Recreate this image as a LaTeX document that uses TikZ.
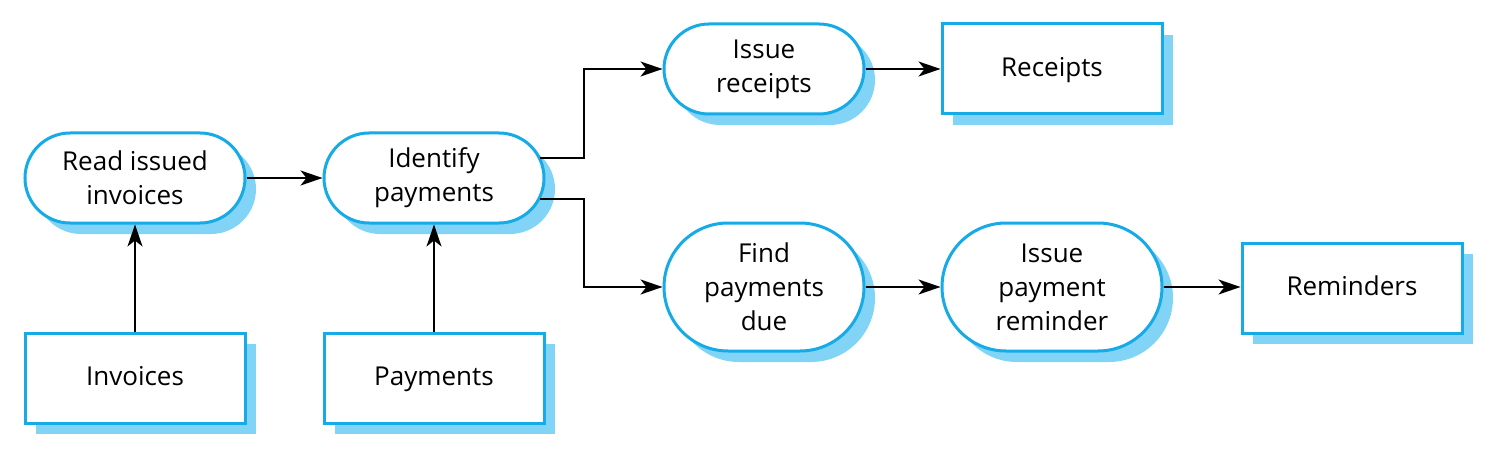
\documentclass[tikz,border=0pt]{standalone}
\usepackage{fontspec}
\setmainfont{Open Sans}
\usetikzlibrary{shadows,arrows.meta,calc}
\definecolor{bord}{RGB}{22,170,230}
\definecolor{shad}{RGB}{130,212,247}
\begin{document}
\begin{tikzpicture}[x=0.5pt,y=-0.5pt,
  base/.style={draw=bord, line width=1.5pt, fill=white, align=center,
    font=\fontsize{13}{17}\selectfont, inner sep=0pt,
    drop shadow={shadow xshift=5.5pt, shadow yshift=-5.5pt, fill=shad, opacity=1}},
  proc/.style={base, minimum width=110pt, minimum height=45pt, rounded corners=22.5pt},
  tallproc/.style={base, minimum width=100pt, minimum height=64pt, rounded corners=32pt},
  store/.style={base, minimum width=110pt, minimum height=45pt, text height=9pt, text depth=2pt},
  conn/.style={line width=0.75pt, -{Stealth[length=11pt,width=7.5pt,inset=3pt]}}]
\useasboundingbox (0,0) rectangle (1493,476);

\node[proc] (ri) at (135,178) {Read issued\\invoices};
\node[proc] (ip) at (434,178) {Identify\\payments};
\node[proc, minimum width=100pt] (ir) at (764,69) {Issue\\receipts};
\node[store] (rc) at (1052,69) {Receipts};
\node[tallproc] (fp) at (764,287) {Find\\payments\\due};
\node[tallproc, minimum width=110pt] (pr) at (1052,287) {Issue\\payment\\reminder};
\node[store] (rm) at (1352,288) {Reminders};
\node[store] (iv) at (135,378) {Invoices};
\node[store] (pm) at (434,378) {Payments};

\coordinate (j) at (584,178);
\coordinate (a1) at ($(ip.center)+(106,-20)$);
\coordinate (a2) at ($(ip.center)+(106,21)$);

\draw[conn] (ri.east) -- (ip.west);
\draw[conn] (iv.north) -- (ri.south);
\draw[conn] (pm.north) -- (ip.south);
\draw[conn] (a1) -- (a1 -| j) |- (ir.west);
\draw[conn] (a2) -- (a2 -| j) |- (fp.west);
\draw[conn] (ir.east) -- (rc.west);
\draw[conn] (fp.east) -- (pr.west);
\draw[conn] (pr.east) -- (rm.west |- pr.east);
\end{tikzpicture}
\end{document}
